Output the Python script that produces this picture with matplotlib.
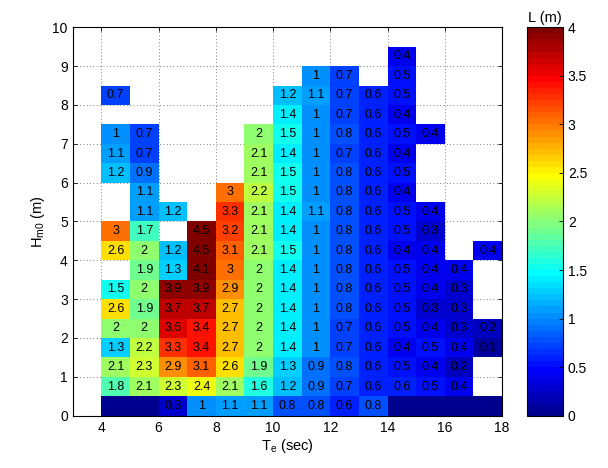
import numpy as np
import matplotlib
matplotlib.use("Agg")
import matplotlib.pyplot as plt
from matplotlib.colors import ListedColormap, BoundaryNorm

plt.rcParams['font.family'] = ['Liberation Sans', 'DejaVu Sans']

# ---- data ----
te_edges = [4, 5, 6, 7, 8, 9, 10, 11, 12, 13, 14, 15, 16, 17, 18]
hm0_edges = [0, 0.5, 1, 1.5, 2, 2.5, 3, 3.5, 4, 4.5, 5, 5.5, 6, 6.5, 7, 7.5, 8, 8.5, 9, 9.5]
n = np.nan
# rows from Hm0 = 0 (bottom) upward; columns Te = 4..17 (cell left edges)
row_00 = [0, 0, 0.3, 1, 1.1, 1.1, 0.8, 0.8, 0.6, 0.8, 0, 0, 0, 0]
row_05 = [1.8, 2.1, 2.3, 2.4, 2.1, 1.6, 1.2, 0.9, 0.7, 0.6, 0.6, 0.5, 0.4, n]
row_10 = [2.1, 2.3, 2.9, 3.1, 2.6, 1.9, 1.3, 0.9, 0.8, 0.6, 0.5, 0.4, 0.2, n]
row_15 = [1.3, 2.2, 3.3, 3.4, 2.7, 2, 1.4, 1, 0.7, 0.6, 0.4, 0.5, 0.4, 0.1]
row_20 = [2, 2, 3.6, 3.4, 2.7, 2, 1.4, 1, 0.7, 0.6, 0.5, 0.4, 0.3, 0.2]
row_25 = [2.6, 1.9, 3.7, 3.7, 2.7, 2, 1.4, 1, 0.8, 0.6, 0.5, 0.3, 0.3, n]
row_30 = [1.5, 2, 3.9, 3.9, 2.9, 2, 1.4, 1, 0.8, 0.6, 0.5, 0.4, 0.3, n]
row_35 = [n, 1.9, 1.3, 4.1, 3, 2, 1.4, 1, 0.8, 0.6, 0.5, 0.4, 0.4, n]
row_40 = [2.6, 2, 1.2, 4.6, 3.1, 2.1, 1.5, 1, 0.8, 0.6, 0.4, 0.4, n, 0.4]
row_45 = [3, 1.7, n, 4.5, 3.2, 2.1, 1.4, 1, 0.8, 0.6, 0.5, 0.3, n, n]
row_50 = [n, 1.1, 1.2, n, 3.3, 2.1, 1.4, 1.1, 0.8, 0.6, 0.5, 0.4, n, n]
row_55 = [n, 1.1, n, n, 3, 2.2, 1.5, 1, 0.8, 0.6, 0.4, n, n, n]
row_60 = [1.2, 0.9, n, n, n, 2.1, 1.5, 1, 0.8, 0.6, 0.5, n, n, n]
row_65 = [1.1, 0.7, n, n, n, 2.1, 1.4, 1, 0.7, 0.6, 0.4, n, n, n]
row_70 = [1, 0.7, n, n, n, 2, 1.5, 1, 0.8, 0.6, 0.5, 0.4, n, n]
row_75 = [n, n, n, n, n, n, 1.4, 1, 0.7, 0.6, 0.4, n, n, n]
row_80 = [0.7, n, n, n, n, n, 1.2, 1.1, 0.7, 0.6, 0.5, n, n, n]
row_85 = [n, n, n, n, n, n, n, 1, 0.7, n, 0.5, n, n, n]
row_90 = [n, n, n, n, n, n, n, n, n, n, 0.4, n, n, n]

L = np.array([row_00, row_05, row_10, row_15, row_20, row_25, row_30, row_35,
              row_40, row_45, row_50, row_55, row_60, row_65, row_70, row_75,
              row_80, row_85, row_90], dtype=float)

# ---- MATLAB-style jet(64) ----
def matlab_jet(m=64):
    nn = int(np.ceil(m / 4))
    u = np.concatenate([np.arange(1, nn + 1) / nn, np.ones(nn - 1), np.arange(nn, 0, -1) / nn])
    g = int(np.ceil(nn / 2)) - (1 if m % 4 == 1 else 0) + np.arange(1, len(u) + 1)
    r = g + nn
    b = g - nn
    J = np.zeros((m, 3))
    mr = r <= m
    J[r[mr] - 1, 0] = u[mr]
    mg = g <= m
    J[g[mg] - 1, 1] = u[mg]
    mb = b >= 1
    J[b[mb] - 1, 2] = u[mb]
    return J

cmap = ListedColormap(matlab_jet(64))
cmap.set_bad((1, 1, 1, 0))

fig = plt.figure(figsize=(6.08, 4.68), dpi=100)
ax = fig.add_axes([0.1196, 0.1118, 0.7061, 0.8299])
cax = fig.add_axes([0.8668, 0.1118, 0.0592, 0.8299])

X, Y = np.meshgrid(te_edges, hm0_edges)
mesh = ax.pcolormesh(X, Y, np.ma.masked_invalid(L), cmap=cmap, vmin=0, vmax=4,
                     shading='flat', zorder=1)

xc = (np.array(te_edges[:-1]) + np.array(te_edges[1:])) / 2
yc = (np.array(hm0_edges[:-1]) + np.array(hm0_edges[1:])) / 2
for i, yv in enumerate(yc):
    for j, xv in enumerate(xc):
        v = L[i, j]
        if np.isfinite(v) and v > 0:
            ax.text(xv, yv, f"{v:g}", ha='center', va='center', fontsize=9,
                    color='black', zorder=3)

ax.set_xlim(3, 18)
ax.set_ylim(0, 10)
ax.set_xticks(range(4, 19, 2))
ax.set_yticks(range(0, 11))
ax.tick_params(direction='in', top=True, right=True, labelsize=10, length=3, width=0.6)
ax.set_axisbelow(True)
ax.grid(True, linestyle=(0, (1, 3)), color='#555555', linewidth=0.6, zorder=0)
for s in ax.spines.values():
    s.set_linewidth(0.8)
ax.set_xlabel(r'$\mathregular{T_e}$ (sec)', fontsize=10.5, labelpad=2)
ax.set_ylabel(r'$\mathregular{H_{m0}}$ (m)', fontsize=10.5, labelpad=4)

cb = fig.colorbar(mesh, cax=cax, ticks=np.arange(0, 4.01, 0.5))
cb.ax.set_yticklabels([f"{t:g}" for t in np.arange(0, 4.01, 0.5)])
cb.ax.tick_params(direction='in', labelsize=10, length=3, width=0.6)
cb.outline.set_linewidth(0.8)
cb.ax.set_title('L (m)', fontsize=10.5, pad=4)

fig.savefig('out.png', dpi=100)
